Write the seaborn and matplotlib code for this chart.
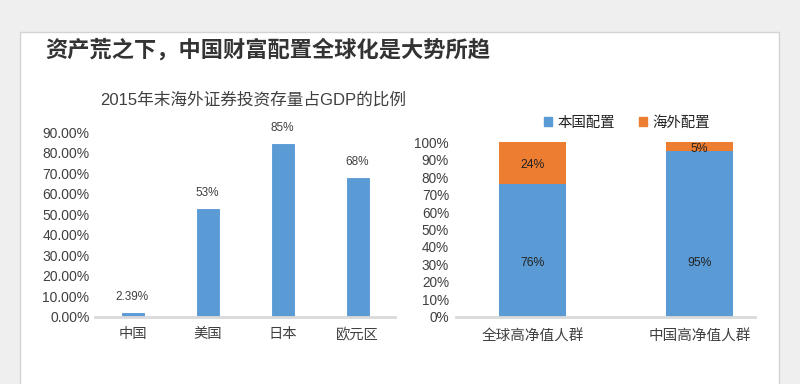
import matplotlib
matplotlib.use("Agg")
import matplotlib.pyplot as plt
import matplotlib.patches as mpatches
import seaborn as sns
import pandas as pd

# ---- data ----
main_title = "资产荒之下，中国财富配置全球化是大势所趋"
left_title = "2015年末海外证券投资存量占GDP的比例"
left_cats = ["中国", "美国", "日本", "欧元区"]
left_vals = [2.39, 53, 85, 68]
left_labels = ["2.39%", "53%", "85%", "68%"]

right_cats = ["全球高净值人群", "中国高净值人群"]
domestic = [76, 95]
overseas = [24, 5]
series_names = ["本国配置", "海外配置"]

BLUE = "#5B9BD5"
ORANGE = "#ED7D31"
TXT = "#404040"

sns.set_theme(style="white")
plt.rcParams["font.family"] = ["Liberation Sans", "Noto Sans CJK SC", "DejaVu Sans"]

W, H = 800, 384
fig = plt.figure(figsize=(W / 100, H / 100), dpi=100)
fig.patch.set_facecolor("#efefef")

# white card
card = mpatches.Rectangle((20 / W, -0.05), 759 / W, 1 - 32 / H + 0.05,
                          transform=fig.transFigure, facecolor="white",
                          edgecolor="#d4d4d4", linewidth=1, zorder=-5)
fig.patches.append(card)

fig.text(45 / W, 1 - 50 / H, main_title, fontsize=16, fontweight="bold",
         color="#333333", ha="left", va="center",
         family=["Noto Sans CJK SC", "DejaVu Sans"])

def fx(px):
    return px / W

def fy(py):
    return 1 - py / H

# ---- left chart ----
axL = fig.add_axes([fx(95), fy(316.7), (395 - 95) / W, (316.7 - 132.3) / H])
axL.set_facecolor("none")
dfL = pd.DataFrame({"cat": left_cats, "val": left_vals})
sns.barplot(data=dfL, x="cat", y="val", color=BLUE, width=0.32, ax=axL,
            saturation=1, edgecolor="white", linewidth=0.8)
axL.set_ylim(0, 90)
axL.set_xlim(-0.5, 3.5)
axL.set_yticks(range(0, 91, 10))
axL.set_yticklabels([f"{v:.2f}%" for v in range(0, 91, 10)])
axL.set_xlabel("")
axL.set_ylabel("")
for s in ["top", "right", "left"]:
    axL.spines[s].set_visible(False)
axL.spines["bottom"].set_color("#d9d9d9")
axL.spines["bottom"].set_linewidth(2)
axL.tick_params(axis="y", length=0, labelsize=10, labelcolor="#404040", pad=4)
axL.tick_params(axis="x", length=0, labelsize=10.3, labelcolor="#404040", pad=7.5)
for i, (v, lab) in enumerate(zip(left_vals, left_labels)):
    axL.annotate(lab, (i, v), xytext=(0, 6.5), textcoords="offset points",
                 ha="center", va="bottom", fontsize=8.5, color=TXT)
fig.text(fx(253), fy(100), left_title, fontsize=12, color="#404040",
         ha="center", va="center")

# ---- right chart ----
axR = fig.add_axes([fx(456), fy(316.7), (755 - 456) / W, (316.7 - 142.3) / H])
axR.set_facecolor("none")
totals = [d + o for d, o in zip(domestic, overseas)]
dfT = pd.DataFrame({"cat": right_cats, "val": totals})
dfD = pd.DataFrame({"cat": right_cats, "val": domestic})
sns.barplot(data=dfT, x="cat", y="val", color=ORANGE, width=0.4, ax=axR,
            saturation=1, linewidth=0)
sns.barplot(data=dfD, x="cat", y="val", color=BLUE, width=0.4, ax=axR,
            saturation=1, linewidth=0)
axR.set_ylim(0, 100)
axR.set_xlim(-0.456, 1.33)
axR.set_yticks(range(0, 101, 10))
axR.set_yticklabels([f"{v}%" for v in range(0, 101, 10)])
axR.set_xlabel("")
axR.set_ylabel("")
for s in ["top", "right", "left"]:
    axR.spines[s].set_visible(False)
axR.spines["bottom"].set_color("#d9d9d9")
axR.spines["bottom"].set_linewidth(2)
axR.tick_params(axis="y", length=0, labelsize=9.8, labelcolor="#404040", pad=5)
axR.tick_params(axis="x", length=0, labelsize=10.5, labelcolor="#404040", pad=9.5)
for i, (d, o) in enumerate(zip(domestic, overseas)):
    axR.text(i, 30.6, f"{d}%", ha="center", va="center", fontsize=8.8, color="#222222")
    axR.text(i, d + o / 2 - 1.3, f"{o}%", ha="center", va="center", fontsize=8.8, color="#222222")

handles = [mpatches.Patch(color=BLUE, label=series_names[0]),
           mpatches.Patch(color=ORANGE, label=series_names[1])]
fig.legend(handles=handles, loc="center", bbox_to_anchor=(fx(627), fy(122.7)),
           ncol=2, frameon=False, handlelength=0.55, handleheight=0.55,
           handletextpad=0.4, columnspacing=1.6, fontsize=10.4,
           labelcolor="#222222")

fig.savefig("out.png", dpi=100, facecolor=fig.get_facecolor())
